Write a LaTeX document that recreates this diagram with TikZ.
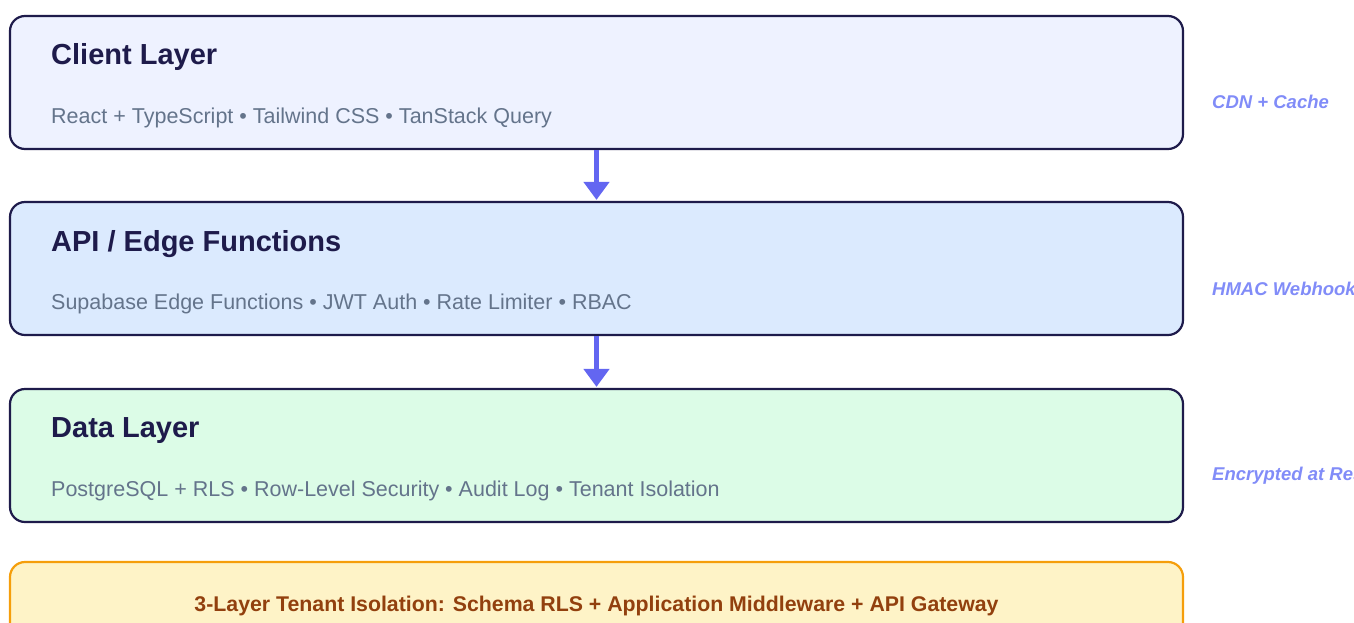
\documentclass[tikz,border=0pt]{standalone}
\usepackage{fontspec}
\setmainfont{Liberation Sans}
\usetikzlibrary{arrows.meta}
\definecolor{navy}{HTML}{1E1B4B}
\definecolor{subgray}{HTML}{64748B}
\definecolor{sidec}{HTML}{818CF8}
\definecolor{arrowc}{HTML}{6366F1}
\definecolor{fillA}{HTML}{EEF2FF}
\definecolor{fillB}{HTML}{DBEAFE}
\definecolor{fillC}{HTML}{DCFCE7}
\definecolor{fillD}{HTML}{FEF3C7}
\definecolor{orangeb}{HTML}{F59E0B}
\definecolor{brownt}{HTML}{92400E}
\tikzset{
  layerbox/.style={draw=navy, line width=2.2pt, rounded corners=15pt, minimum width=1173pt, minimum height=133pt, inner sep=0pt},
  titletext/.style={anchor=base west, inner sep=0pt, text=navy, font=\fontsize{29}{34}\selectfont\bfseries},
  subtext/.style={anchor=base west, inner sep=0pt, text=subgray, font=\fontsize{21.5}{25}\selectfont},
  sidetext/.style={anchor=west, inner sep=0pt, text=sidec, font=\fontsize{18.5}{22}\selectfont\bfseries\itshape},
  flowarrow/.style={draw=arrowc, line width=4.5pt, -{Triangle[width=25pt,length=18pt]}, shorten >=1pt}
}
\begin{document}
\begin{tikzpicture}[x=1pt,y=-1pt]
\useasboundingbox (0,0) rectangle (1354,622);
\clip (0,0) rectangle (1354,622);
\node[layerbox, fill=fillA] (b1) at (596.5,82.5) {};
\node[layerbox, fill=fillB] (b2) at (596.5,268.5) {};
\node[layerbox, fill=fillC] (b3) at (596.5,455.5) {};
\node[layerbox, draw=orangeb, fill=fillD] (b4) at (596.5,628.5) {};
\node[titletext] (t1) at (51,64) {Client Layer};
\node[subtext] (s1) at (51,123) {React + TypeScript • Tailwind CSS • TanStack Query};
\node[titletext] (t2) at (51,251) {API / Edge Functions};
\node[subtext] (s2) at (51,309) {Supabase Edge Functions • JWT Auth • Rate Limiter • RBAC};
\node[titletext] (t3) at (51,437) {Data Layer};
\node[subtext] (s3) at (51,496) {PostgreSQL + RLS • Row-Level Security • Audit Log • Tenant Isolation};
\node[sidetext] (r1) at (1212,102) {CDN + Cache};
\node[sidetext] (r2) at (1212,289) {HMAC Webhooks};
\node[sidetext] (r3) at (1212,476) {Encrypted at Rest};
\node[anchor=base, inner sep=0pt, text=brownt, font=\fontsize{21.3}{25}\selectfont\bfseries] (bt) at (596.5,611) {3-Layer Tenant Isolation: Schema RLS + Application Middleware + API Gateway};
\draw[flowarrow] (b1.south) -- (b2.north);
\draw[flowarrow] (b2.south) -- (b3.north);
\end{tikzpicture}
\end{document}
